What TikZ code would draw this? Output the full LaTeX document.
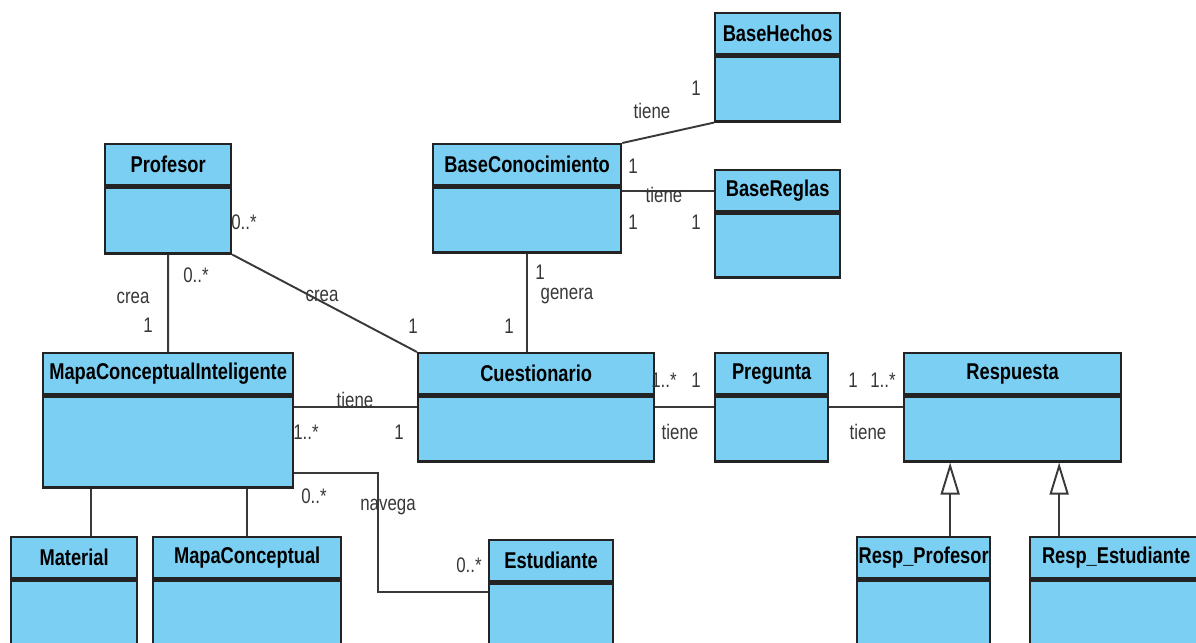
\documentclass[tikz,border=0pt]{standalone}
\usepackage{fontspec}
\setmainfont{Liberation Sans}[FakeStretch=0.8]
\usetikzlibrary{shapes, arrows.meta, positioning}
\definecolor{clsblue}{RGB}{122,207,243}
\definecolor{edgegray}{RGB}{35,35,35}
\definecolor{lblgray}{RGB}{55,55,55}

\begin{document}
\begin{tikzpicture}[
			 every node/.style={inner sep=0pt, font=\fontsize{12}{14}\selectfont},
			 head/.style={draw=edgegray, line width=1.3pt, fill=clsblue, anchor=north west, minimum height=0.82cm, font=\fontsize{13}{15}\selectfont\bfseries},
			 body/.style={draw=edgegray, line width=1.3pt, fill=clsblue},
			 assoc/.style={draw=edgegray!90, line width=1.1pt},
			 inherit/.style={assoc, -{Triangle[open, length=0.64cm, width=0.38cm, line width=1.1pt]}},
			 lbl/.style={text=lblgray}
			 ]
			 
			 \useasboundingbox (0,0) rectangle (23.92,-12.84);
			 \clip (0,0) rectangle (23.92,-12.84);
			 
			 % classes
			 \node[head, minimum width=2.52cm] (profesor) at (2.08,-2.86) {Profesor};
			 \node[body, minimum width=2.52cm, minimum height=1.32cm, below=0pt of profesor] (profesor-b) {};
			 \node[head, minimum width=3.76cm] (basecon) at (8.64,-2.86) {BaseConocimiento};
			 \node[body, minimum width=3.76cm, minimum height=1.30cm, below=0pt of basecon] (basecon-b) {};
			 \node[head, minimum width=2.50cm] (basehechos) at (14.28,-0.24) {BaseHechos};
			 \node[body, minimum width=2.50cm, minimum height=1.30cm, below=0pt of basehechos] (basehechos-b) {};
			 \node[head, minimum width=2.50cm] (basereglas) at (14.28,-3.38) {BaseReglas};
			 \node[body, minimum width=2.50cm, minimum height=1.28cm, below=0pt of basereglas] (basereglas-b) {};
			 \node[head, minimum width=5.00cm] (mapaint) at (0.84,-7.04) {MapaConceptualInteligente};
			 \node[body, minimum width=5.00cm, minimum height=1.82cm, below=0pt of mapaint] (mapaint-b) {};
			 \node[head, minimum width=4.72cm] (cuestionario) at (8.34,-7.04) {Cuestionario};
			 \node[body, minimum width=4.72cm, minimum height=1.30cm, below=0pt of cuestionario] (cuestionario-b) {};
			 \node[head, minimum width=2.26cm] (pregunta) at (14.28,-7.04) {Pregunta};
			 \node[body, minimum width=2.26cm, minimum height=1.30cm, below=0pt of pregunta] (pregunta-b) {};
			 \node[head, minimum width=4.34cm] (respuesta) at (18.06,-7.04) {Respuesta};
			 \node[body, minimum width=4.34cm, minimum height=1.30cm, below=0pt of respuesta] (respuesta-b) {};
			 \node[head, minimum width=2.52cm] (material) at (0.20,-10.72) {Material};
			 \node[body, minimum width=2.52cm, minimum height=1.60cm, below=0pt of material] (material-b) {};
			 \node[head, minimum width=3.76cm] (mapaconc) at (3.04,-10.72) {MapaConceptual};
			 \node[body, minimum width=3.76cm, minimum height=1.60cm, below=0pt of mapaconc] (mapaconc-b) {};
			 \node[head, minimum width=2.48cm] (estudiante) at (9.76,-10.78) {Estudiante};
			 \node[body, minimum width=2.48cm, minimum height=1.60cm, below=0pt of estudiante] (estudiante-b) {};
			 \node[head, minimum width=2.66cm] (respprof) at (17.12,-10.72) {Resp\_Profesor};
			 \node[body, minimum width=2.66cm, minimum height=1.60cm, below=0pt of respprof] (respprof-b) {};
			 \node[head, minimum width=3.44cm] (respest) at (20.58,-10.72) {Resp\_Estudiante};
			 \node[body, minimum width=3.44cm, minimum height=1.60cm, below=0pt of respest] (respest-b) {};
			 
			 % associations
			 \draw[assoc] (profesor-b.south) -- (mapaint.north);
			 \draw[assoc] (profesor-b.south east) -- (cuestionario.north west);
			 \draw[assoc] (basecon-b.south) -- (basecon-b.south |- cuestionario.north);
			 \draw[assoc] (basecon.north east) -- (basehechos-b.south west);
			 \draw[assoc] (basereglas.west) -- (basereglas.west -| basecon-b.east);
			 \draw[assoc] ([yshift=-0.24cm]cuestionario-b.north west) -- ([yshift=-0.24cm]cuestionario-b.north west -| mapaint-b.east);
			 \draw[assoc] ([yshift=-0.24cm]cuestionario-b.north east) -- ([yshift=-0.24cm]pregunta-b.north west);
			 \draw[assoc] ([yshift=-0.24cm]pregunta-b.north east) -- ([yshift=-0.24cm]respuesta-b.north west);
			 \coordinate (navcorner) at (7.56,-11.84);
			 \draw[assoc] ([yshift=0.32cm]mapaint-b.south east) -| (navcorner) -- (navcorner -| estudiante-b.west);
			 \draw[assoc] ([xshift=0.34cm]material.north) -- ([xshift=0.34cm]material.north |- mapaint-b.south);
			 \draw[assoc] (mapaconc.north) -- (mapaconc.north |- mapaint-b.south);
			 
			 % generalizations
			 \draw[inherit] ([xshift=0.53cm]respprof.north) -- ([xshift=0.53cm]respprof.north |- respuesta-b.south);
			 \draw[inherit] ([xshift=-1.14cm]respest.north) -- ([xshift=-1.14cm]respest.north |- respuesta-b.south);
			 
			 % labels
			 \node[lbl] (crea-a) at (2.66,-5.96) {crea};
			 \node[lbl] (crea-a1) at (2.96,-6.50) {1};
			 \node[lbl] (crea-a0) at (3.92,-5.50) {0..*};
			 \node[lbl] (crea-b0) at (4.88,-4.44) {0..*};
			 \node[lbl] (crea-b) at (6.44,-5.92) {crea};
			 \node[lbl] (crea-b1) at (8.26,-6.52) {1};
			 \node[lbl] (genera-1) at (10.80,-5.44) {1};
			 \node[lbl] (genera) at (11.34,-5.92) {genera};
			 \node[lbl] (genera-2) at (10.18,-6.52) {1};
			 \node[lbl] (tiene-h) at (13.04,-2.22) {tiene};
			 \node[lbl] (tiene-h1) at (13.92,-1.76) {1};
			 \node[lbl] (tiene-r1) at (12.66,-3.32) {1};
			 \node[lbl] (tiene-r) at (13.28,-3.90) {tiene};
			 \node[lbl] (tiene-r2) at (12.66,-4.44) {1};
			 \node[lbl] (tiene-r3) at (13.92,-4.44) {1};
			 \node[lbl] (tiene-c) at (7.10,-8.00) {tiene};
			 \node[lbl] (tiene-c1) at (6.12,-8.64) {1..*};
			 \node[lbl] (tiene-c2) at (7.98,-8.64) {1};
			 \node[lbl] (navega-0) at (6.28,-9.92) {0..*};
			 \node[lbl] (navega) at (7.76,-10.14) {navega};
			 \node[lbl] (navega-1) at (9.38,-11.30) {0..*};
			 \node[lbl] (tiene-p1) at (13.28,-7.60) {1..*};
			 \node[lbl] (tiene-p2) at (13.92,-7.60) {1};
			 \node[lbl] (tiene-p) at (13.60,-8.64) {tiene};
			 \node[lbl] (tiene-s1) at (17.06,-7.60) {1};
			 \node[lbl] (tiene-s2) at (17.66,-7.60) {1..*};
			 \node[lbl] (tiene-s) at (17.36,-8.64) {tiene};
		
		\end{tikzpicture}
\end{document}
